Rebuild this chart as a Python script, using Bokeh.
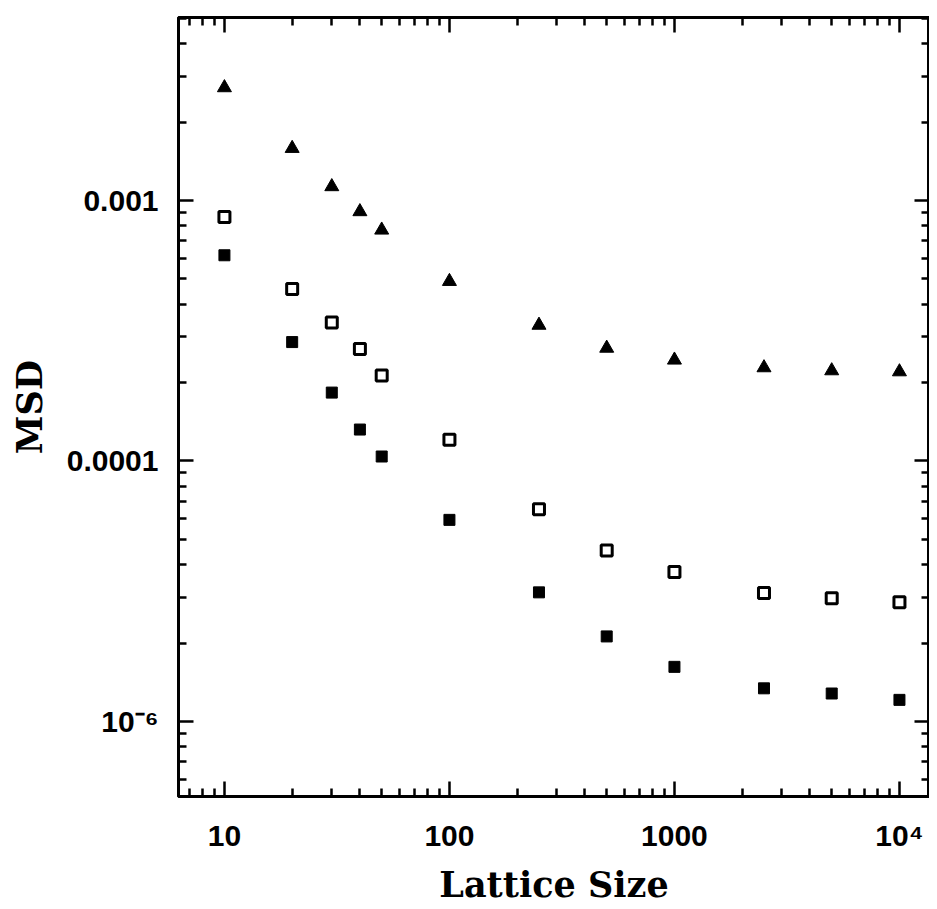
import numpy as np
from bokeh.plotting import figure
from bokeh.models import FixedTicker, LogAxis, Range1d
from bokeh.embed import file_html
from bokeh.resources import INLINE

# ---- data ----
lattice_size = [10, 20, 30, 40, 50, 100, 250, 500, 1000, 2500, 5000, 10000]
msd_triangle = [2.71e-3, 1.585e-3, 1.13e-3, 9.06e-4, 7.70e-4, 4.89e-4,
                3.32e-4, 2.71e-4, 2.44e-4, 2.28e-4, 2.22e-4, 2.20e-4]
msd_open_square = [8.65e-4, 4.57e-4, 3.40e-4, 2.69e-4, 2.13e-4, 1.206e-4,
                   6.52e-5, 4.53e-5, 3.75e-5, 3.11e-5, 2.97e-5, 2.87e-5]
msd_filled_square = [6.16e-4, 2.86e-4, 1.83e-4, 1.32e-4, 1.04e-4, 5.94e-5,
                     3.13e-5, 2.12e-5, 1.62e-5, 1.34e-5, 1.28e-5, 1.21e-5]

x_ticks = [10, 100, 1000, 10000]
x_tick_labels = ["10", "100", "1000", "10\u2074"]
y_ticks = [1e-5, 1e-4, 1e-3]
y_tick_labels = ["10\u207b\u2076", "0.0001", "0.001"]

x_axis_title = "Lattice Size"
y_axis_title = "MSD"

# minor ticks 2..9 in every decade
def minor_for(lo_exp, hi_exp):
    return [m * 10.0 ** e for e in range(lo_exp, hi_exp) for m in range(2, 10)]

x_minor = minor_for(0, 5)
y_minor = minor_for(-6, -1)

p = figure(x_axis_type="log", y_axis_type="log",
           x_range=Range1d(6.25, 13600), y_range=Range1d(5.15e-6, 5.04e-3),
           frame_width=751, frame_height=779,
           min_border_left=178, min_border_right=0,
           min_border_top=17, min_border_bottom=100,
           output_backend="svg", toolbar_location=None,
           background_fill_color="white", border_fill_color="white")

p.grid.visible = False
p.outline_line_color = "black"
p.outline_line_width = 3

tick_font = "Liberation Sans"
title_font = "DejaVu Serif"


def style_axis(ax, show_labels):
    ax.axis_line_width = 3
    ax.axis_line_color = "black"
    ax.major_tick_in = 15
    ax.major_tick_out = 0
    ax.minor_tick_in = 8
    ax.minor_tick_out = 0
    ax.major_tick_line_width = 2.5
    ax.minor_tick_line_width = 2.5
    ax.major_tick_line_color = "black"
    ax.minor_tick_line_color = "black"
    if show_labels:
        ax.major_label_text_font = tick_font
        ax.major_label_text_font_style = "bold"
        ax.major_label_text_font_size = "30px"
        ax.major_label_text_color = "black"
    else:
        ax.major_label_text_font_size = "1px"
        ax.major_label_text_alpha = 0
        ax.major_label_standoff = 0


xt = FixedTicker(ticks=x_ticks, minor_ticks=x_minor)
yt = FixedTicker(ticks=y_ticks, minor_ticks=y_minor)

p.xaxis.ticker = xt
p.yaxis.ticker = yt
p.xaxis.major_label_overrides = {t: s for t, s in zip(x_ticks, x_tick_labels)}
p.yaxis.major_label_overrides = {t: s for t, s in zip(y_ticks, y_tick_labels)}
style_axis(p.xaxis[0], True)
style_axis(p.yaxis[0], True)
p.xaxis.major_label_standoff = 22
p.yaxis.major_label_standoff = 20
p.yaxis.major_label_orientation = "horizontal"

p.xaxis.axis_label = x_axis_title
p.yaxis.axis_label = y_axis_title
for ax in (p.xaxis[0], p.yaxis[0]):
    ax.axis_label_text_font = title_font
    ax.axis_label_text_font_style = "bold"
    ax.axis_label_text_font_size = "35px"
    ax.axis_label_text_color = "black"
p.xaxis.axis_label_standoff = 9
p.yaxis.axis_label_standoff = 14

top_ax = LogAxis(ticker=FixedTicker(ticks=x_ticks, minor_ticks=x_minor))
right_ax = LogAxis(ticker=FixedTicker(ticks=y_ticks, minor_ticks=y_minor))
style_axis(top_ax, False)
style_axis(right_ax, False)
p.add_layout(top_ax, "above")
p.add_layout(right_ax, "right")

# ---- markers ----
p.scatter(lattice_size, msd_triangle, marker="triangle", size=14,
          fill_color="black", line_color="black")
p.scatter(lattice_size, msd_open_square, marker="square", size=11,
          fill_color="white", line_color="black", line_width=3)
p.scatter(lattice_size, msd_filled_square, marker="square", size=11,
          fill_color="black", line_color="black")

open("out.html", "w").write(file_html(p, INLINE))
